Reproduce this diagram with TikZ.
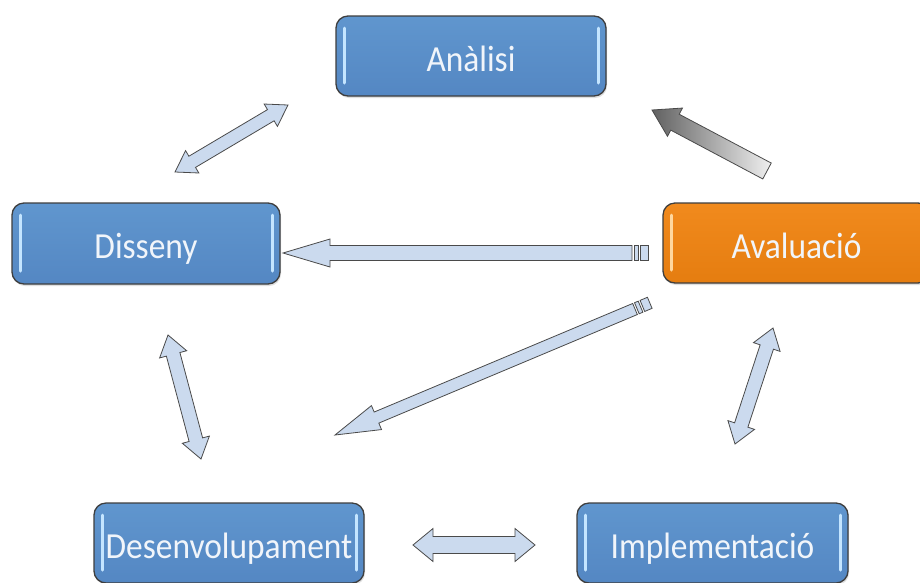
\documentclass[tikz,border=0pt]{standalone}
\usepackage{fontspec}
\setmainfont{Carlito}
\usepackage{graphicx}
\usetikzlibrary{calc,shadows}
\definecolor{bluetop}{HTML}{6096CE}
\definecolor{bluebot}{HTML}{5487C3}
\definecolor{orangetop}{HTML}{F18A1D}
\definecolor{orangebot}{HTML}{E57D10}
\definecolor{boxline}{HTML}{3E3E3E}
\definecolor{hlblue}{HTML}{C4E5FF}
\definecolor{hlorange}{HTML}{FFD79E}
\definecolor{arrfill}{HTML}{CBDAEE}
\definecolor{arrline}{HTML}{4A4A4A}
\definecolor{txtwhite}{HTML}{F1F5FA}
\newcommand\boxtext[1]{\scalebox{1}[1.1]{#1}}
\tikzset{
  boxbase/.style={rounded corners=12pt, draw=boxline, line width=1.3pt,
    minimum width=270pt, minimum height=80pt, inner sep=2pt,
    text height=30pt, text depth=0pt,
    text=txtwhite, font=\fontsize{33.4}{40}\selectfont,
    drop shadow={opacity=0.25, shadow xshift=1pt, shadow yshift=-2pt}},
  hlines/.style={path picture={
    \draw[#1, line width=3pt, line cap=round]
      ([xshift=8pt,yshift=-12pt]path picture bounding box.north west) --
      ([xshift=8pt,yshift=13pt]path picture bounding box.south west);
    \draw[#1, line width=3pt, line cap=round]
      ([xshift=-8pt,yshift=-12pt]path picture bounding box.north east) --
      ([xshift=-8pt,yshift=13pt]path picture bounding box.south east);}},
  bluebox/.style={boxbase, top color=bluetop, bottom color=bluebot, hlines=hlblue},
  orangebox/.style={boxbase, top color=orangetop, bottom color=orangebot, hlines=hlorange},
  arrstyle/.style={fill=arrfill, draw=arrline, line width=0.8pt, line join=miter},
  grayarr/.style={left color=black!62, right color=black!6, draw=arrline, line width=0.8pt},
}
% single block arrow: #1 tail, #2 tip, #3 shaft half width, #4 head half width, #5 head length, #6 style
\newcommand\blocksingle[6]{%
  \coordinate (nk) at ($(#2)!#5!(#1)$);
  \path[#6] ($(#1)!#3!90:(#2)$) -- ($(nk)!#3!90:(#2)$) -- ($(nk)!#4!90:(#2)$) -- (#2)
    -- ($(nk)!#4!-90:(#2)$) -- ($(nk)!#3!-90:(#2)$) -- ($(#1)!#3!-90:(#2)$) -- cycle;}
% double block arrow
\newcommand\blockdouble[6]{%
  \coordinate (na) at ($(#2)!#5!(#1)$);
  \coordinate (nb) at ($(#1)!#5!(#2)$);
  \path[#6] (#1) -- ($(nb)!#4!90:(#2)$) -- ($(nb)!#3!90:(#2)$) -- ($(na)!#3!90:(#2)$)
    -- ($(na)!#4!90:(#2)$) -- (#2) -- ($(na)!#4!-90:(#2)$) -- ($(na)!#3!-90:(#2)$)
    -- ($(nb)!#3!-90:(#2)$) -- ($(nb)!#4!-90:(#2)$) -- cycle;}
% stripe at tail: #1 tail, #2 tip, #3 half width, #4 start dist, #5 end dist
\newcommand\blockstripe[5]{%
  \coordinate (sa) at ($(#1)!-#4!(#2)$);
  \coordinate (sb) at ($(#1)!-#5!(#2)$);
  \path[arrstyle] ($(sa)!#3!90:(#2)$) -- ($(sb)!#3!90:(#2)$) -- ($(sb)!#3!-90:(#2)$)
    -- ($(sa)!#3!-90:(#2)$) -- cycle;}
\begin{document}
\begin{tikzpicture}[x=1pt,y=-1pt]
\useasboundingbox[fill=white] (0,0) rectangle (920,582);
% boxes
\node[bluebox] (ana) at (471,56) {\boxtext{Anàlisi}};
\node[bluebox, minimum width=268pt, minimum height=81pt] (dis) at (146,243.5) {\boxtext{Disseny}};
\node[orangebox, minimum width=267pt] (ava) at (796.5,243) {\boxtext{Avaluació}};
\node[bluebox] (des) at (229,543) {\boxtext{Desenvolupament}};
\node[bluebox, minimum width=271pt] (imp) at (712.5,543) {\boxtext{Implementació}};
% connector end points
\coordinate (anadisA) at (288,105);
\coordinate (anadisB) at (175,172);
\coordinate (avaanaT) at (767,171);
\coordinate (avaanaH) at (652,110);
\coordinate (avadisT) at (632,253);
\coordinate (avadisH) at (283,253);
\coordinate (avadesT) at (635,309);
\coordinate (avadesH) at (335,435);
\coordinate (disdesA) at (168,335);
\coordinate (disdesB) at (201,459);
\coordinate (avaimpA) at (773,328);
\coordinate (avaimpB) at (735,444);
\coordinate (desimpA) at (413,545);
\coordinate (desimpB) at (535,545);
% arrows
\blockdouble{anadisB}{anadisA}{6.5pt}{13pt}{20pt}{arrstyle}
\blocksingle{avaanaT}{avaanaH}{9pt}{16pt}{26pt}{grayarr}
\blocksingle{avadisT}{avadisH}{7.5pt}{14pt}{47pt}{arrstyle}
\blockstripe{avadisT}{avadisH}{7.5pt}{2pt}{6pt}
\blockstripe{avadisT}{avadisH}{7.5pt}{8pt}{16pt}
\blocksingle{avadesT}{avadesH}{6pt}{13pt}{45pt}{arrstyle}
\blockstripe{avadesT}{avadesH}{6pt}{2pt}{6pt}
\blockstripe{avadesT}{avadesH}{6pt}{8pt}{16pt}
\blockdouble{disdesA}{disdesB}{7pt}{14pt}{20pt}{arrstyle}
\blockdouble{avaimpB}{avaimpA}{7pt}{14pt}{20pt}{arrstyle}
\blockdouble{desimpA}{desimpB}{8.5pt}{16.5pt}{20pt}{arrstyle}
\end{tikzpicture}
\end{document}
